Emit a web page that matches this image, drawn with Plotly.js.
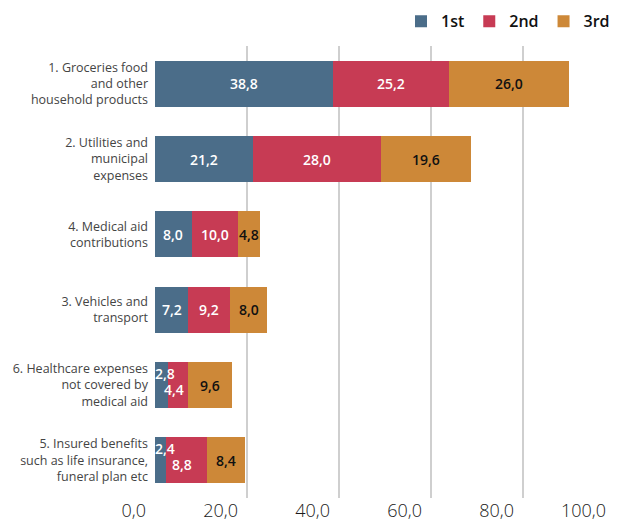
<!DOCTYPE html>
<html><head><meta charset="utf-8">
<script src="https://cdn.plot.ly/plotly-3.0.1.min.js"></script>
<style>html,body{margin:0;padding:0;background:#fff}#chart{width:627px;height:532px}</style>
</head><body><div id="chart"></div>
<script>
const categories = [
  "1. Groceries food<br>and other<br>household products",
  "2. Utilities and<br>municipal<br>expenses",
  "4. Medical aid<br>contributions",
  "3. Vehicles and<br>transport",
  "6. Healthcare expenses<br>not covered by<br>medical aid",
  "5. Insured benefits<br>such as life insurance,<br>funeral plan etc"
];
const seriesNames = ["1st", "2nd", "3rd"];
const first  = [38.8, 21.2, 8.0, 7.2, 2.8, 2.4];
const second = [25.2, 28.0, 10.0, 9.2, 4.4, 8.8];
const third  = [26.0, 19.6, 4.8, 8.0, 9.6, 8.4];
const tickVals = [0, 20, 40, 60, 80, 100];
const tickText = ["0,0", "20,0", "40,0", "60,0", "80,0", "100,0"];

const colors = ["#4b6d89", "#c73b54", "#cd8838"];
const labelColors = ["#ffffff", "#ffffff", "#111111"];
const series = [first, second, third];

const traces = series.map((vals, i) => ({
  type: "bar", orientation: "h", name: seriesNames[i],
  x: vals, y: categories,
  marker: {color: colors[i], line: {width: 0}},
  hoverinfo: "skip"
}));

const fmt = v => v.toFixed(1).replace(".", ",");
const annotations = [];
categories.forEach((cat, r) => {
  let base = 0;
  const crowded = series[0][r] < 4;
  series.forEach((vals, i) => {
    const v = vals[r];
    const a = {
      x: base + v / 2, y: cat, xref: "x", yref: "y",
      text: fmt(v), showarrow: false, xshift: 0, yshift: 0, xanchor: "center",
      font: {family: "Open Sans, sans-serif", size: 14, weight: 600, color: labelColors[i]}
    };
    if (crowded && i === 0) { a.x = base; a.xanchor = "left"; a.xshift = -2; a.yshift = 12; }
    if (crowded && i === 1) { a.xshift = -4; a.yshift = -4; }
    annotations.push(a);
    base += v;
  });
});

const layout = {
  width: 627, height: 532,
  margin: {l: 155, r: 12, t: 46, b: 34},
  paper_bgcolor: "#fff", plot_bgcolor: "#fff",
  barmode: "stack", bargap: 0.39,
  showlegend: true,
  legend: {orientation: "h", x: 1, xanchor: "right", xref: "paper",
           y: 0.96, yref: "container", yanchor: "middle",
           font: {family: "Open Sans, sans-serif", size: 16, weight: 600, color: "#111"},
           traceorder: "normal", itemclick: false},
  xaxis: {range: [0, 100], tickvals: tickVals, ticktext: tickText,
          showgrid: true, gridcolor: "#cfcfcf", gridwidth: 1.3, zeroline: false,
          showline: false, ticks: "", ticklabelposition: "outside left", ticklabelshift: -9,
          tickfont: {family: "Open Sans, sans-serif", size: 18, weight: 300, color: "#1a1a1a"}},
  yaxis: {autorange: "reversed", showgrid: false, zeroline: false, showline: false,
          ticks: "", ticklabelstandoff: 6,
          tickfont: {family: "Open Sans, sans-serif", size: 12.5, weight: 400, color: "#444"}},
  annotations: annotations,
  hovermode: false
};

Plotly.newPlot("chart", traces, layout, {displayModeBar: false, staticPlot: true});
</script></body></html>
